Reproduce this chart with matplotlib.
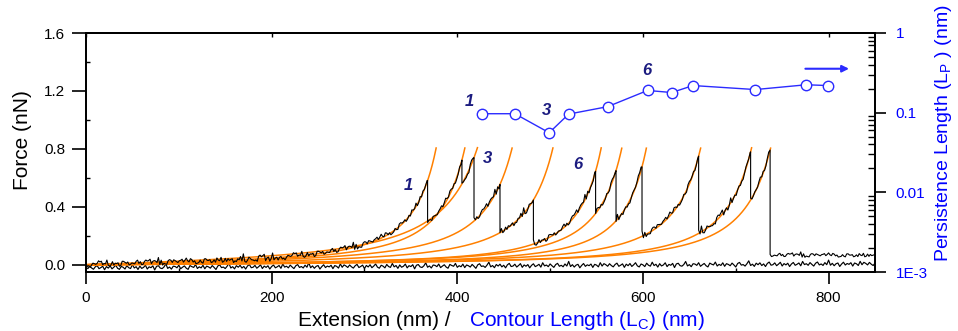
import numpy as np
import matplotlib
matplotlib.use("Agg")
import matplotlib.pyplot as plt
from matplotlib.ticker import FixedLocator, FixedFormatter, MultipleLocator, LogLocator, NullFormatter

plt.rcParams['font.family'] = ['Liberation Sans', 'DejaVu Sans']
plt.rcParams['mathtext.fontset'] = 'custom'
plt.rcParams['mathtext.rm'] = 'Liberation Sans'
plt.rcParams['mathtext.it'] = 'Liberation Sans:italic'

# ---------------- data ----------------
# WLC fit parameters for the 11 unfolding peaks
contour_nm = [427, 462, 499, 520, 562, 605, 631, 654, 721, 776, 799]
persistence_nm = [0.097, 0.097, 0.056, 0.096, 0.119, 0.19, 0.179, 0.219, 0.195, 0.224, 0.219]
# extension at which each peak ruptures
rupture_ext_nm = [368, 405, 418, 446, 482, 549, 571, 599, 660, 716, 737]
post_rupture_nN = 0.065
# approach baseline level
baseline_anchor_nm = [0, 425, 850]
baseline_anchor_nN = [-0.02, -0.008, 0.006]
# measured noise residuals (pN)
noise_pN = [5, -9, 14, -3, -15, 7, 19, -10, 0, 12, -20, 9, -5, 15, -12, 3, 22, -7, -17, 10,
            2, -14, 17, -2, -10, 26, -5, 7, -19, 12, -9, 0, 20, -15, 5, -3, 14, -24, 9, 15,
            -7, -12, 3, 31, -10, 2, -17, 10, 7, -5, 19, -14, 0, 12, -9, -20, 15, 5, -2, 24,
            -12, 3, -7, 17, -15, 9, 2, -10, 14, -3, -22, 10, 20, -5, 0, -14, 7, 34, -9, 3,
            -17, 12, -2, 15, -10, 5, -19, 9, 22, -7, -3, 14, -12, 2, 19, -15, 7, -5, 10, -20,
            3, 17, -9, 0, 12, -14, 26, -3, 5, -10, 15, -2, -17, 9, 20, -7, 2, -12, 14, -5,
            37, -10, 7, -15, 3, 10, -22, 0, 17, -9, 5, -3, 12, -19, 9, 2, -14, 24, -7, 15]
peak_labels = ['1', '3', '6']
peak_label_index = [0, 2, 5]
kT = 0.00411          # nN*nm
fit_cap_nN = 0.81

x_ticks = [0, 200, 400, 600, 800]
y_ticks = [0.0, 0.4, 0.8, 1.2, 1.6]
lp_ticks = [1e-3, 1e-2, 1e-1, 1]
lp_tick_labels = ['1E-3', '0.01', '0.1', '1']

ORANGE = '#ff8000'
BLUE = '#0000ff'
MARK_BLUE = '#2b2bff'
NAVY = '#1c1c80'


def wlc(x, L, p):
    r = np.clip(np.asarray(x, float) / L, 0, 0.9995)
    return kT / p * (0.25 / (1 - r) ** 2 - 0.25 + r)


noise = np.array(noise_pN) / 1000.0

fig = plt.figure(figsize=(9.58, 3.31), dpi=100)
W, H = 958, 331
ax = fig.add_axes([86 / W, 1 - 272 / H, (875 - 86) / W, (272 - 33) / H])

# approach trace
app_x = np.arange(0, 851, 2.0)
app_y = np.interp(app_x, baseline_anchor_nm, baseline_anchor_nN) + 0.75 * noise[np.arange(app_x.size) % noise.size]
ax.plot(app_x, app_y, color='black', lw=0.85, zorder=2)

# retract trace (sawtooth)
rx, ry = [], []
start = 0.0
for k, (L, p, xe) in enumerate(zip(contour_nm, persistence_nm, rupture_ext_nm)):
    xs = np.append(np.arange(start, xe, 1.5), xe)
    n = noise[(np.arange(xs.size) * 3 + k * 37 + 61) % noise.size]
    ys = wlc(xs, L, p) + 0.003 + n
    ys[-1] = wlc(xe, L, p)
    rx.extend(xs)
    ry.extend(ys)
    start = xe
xs = np.arange(start, 851, 1.5)
n = noise[(np.arange(xs.size) * 3 + 11) % noise.size]
rx.extend(xs)
ry.extend(post_rupture_nN + 0.7 * n)

# WLC fits
for L, p in zip(contour_nm, persistence_nm):
    xs = np.linspace(0, L * 0.999, 3000)
    f = wlc(xs, L, p)
    m = f <= fit_cap_nN
    ax.plot(xs[m], f[m], color=ORANGE, lw=1.1, zorder=3)

ax.plot(rx, ry, color='black', lw=0.8, zorder=4)

# peak labels on force curves
offsets = [(-14, -3.4), (10, -0.5), (-13, 4.8)]
for lab, i, off in zip(peak_labels, peak_label_index, offsets):
    ax.annotate(lab, xy=(rupture_ext_nm[i], wlc(rupture_ext_nm[i], contour_nm[i], persistence_nm[i])),
                xytext=off, textcoords='offset points', ha='center', va='center',
                fontsize=12, fontweight='bold', fontstyle='italic', color=NAVY)

ax.set_xlim(0, 850)
ax.set_ylim(-0.05, 1.6)
ax.xaxis.set_major_locator(FixedLocator(x_ticks))
ax.xaxis.set_minor_locator(MultipleLocator(100))
ax.yaxis.set_major_locator(FixedLocator(y_ticks))
ax.yaxis.set_major_formatter(FixedFormatter(['%.1f' % v for v in y_ticks]))
ax.yaxis.set_minor_locator(MultipleLocator(0.2))
ax.tick_params(axis='x', which='major', direction='out', length=8.5, width=1.2, labelsize=11, pad=5)
ax.tick_params(axis='x', which='minor', direction='in', length=3, width=1.0)
ax.tick_params(axis='y', which='major', direction='out', length=10, width=1.2, labelsize=11, pad=5)
ax.tick_params(axis='y', which='minor', direction='in', length=3, width=1.0)
for s in ax.spines.values():
    s.set_linewidth(1.3)

sec = ax.secondary_xaxis('top')
sec.xaxis.set_major_locator(FixedLocator(x_ticks))
sec.tick_params(direction='in', length=3, width=1.0, labeltop=False)
sec.spines['top'].set_linewidth(1.3)

# persistence length axis
ax2 = ax.twinx()
ax2.set_yscale('log')
ax2.set_ylim(1e-3, 1)
ax2.plot(contour_nm, persistence_nm, '-o', color=MARK_BLUE, lw=1.0, ms=7.5,
         mfc='white', mec=MARK_BLUE, mew=1.0, zorder=4)
ax2.yaxis.set_major_locator(FixedLocator(lp_ticks))
ax2.yaxis.set_major_formatter(FixedFormatter(lp_tick_labels))
ax2.yaxis.set_minor_locator(LogLocator(base=10, subs=np.arange(2, 10)))
ax2.yaxis.set_minor_formatter(NullFormatter())
ax2.tick_params(axis='y', which='major', direction='out', length=8, width=1.2, labelsize=11,
                labelcolor=BLUE, pad=7)
ax2.tick_params(axis='y', which='minor', direction='in', length=5, width=1.0)
for s in ax2.spines.values():
    s.set_linewidth(1.3)

lab_offsets = [(-9, 8.6), (-2, 16.3), (-0.7, 14.2)]
for lab, i, off in zip(peak_labels, peak_label_index, lab_offsets):
    ax2.annotate(lab, xy=(contour_nm[i], persistence_nm[i]), xytext=off, textcoords='offset points',
                 ha='center', va='center', fontsize=12, fontweight='bold', fontstyle='italic', color=NAVY)

ax2.annotate('', xy=(822, 0.356), xytext=(775, 0.356),
             arrowprops=dict(arrowstyle='-|>', color=MARK_BLUE, lw=1.5, mutation_scale=10,
                             shrinkA=0, shrinkB=0))

# axis titles
fig.text(23 / W, 1 - 140 / H, 'Force (nN)', rotation=90, ha='center', va='center', fontsize=15)
fig.text(450 / W, 1 - 326 / H, 'Extension (nm) /', ha='right', va='baseline', fontsize=15)
fig.text(469 / W, 1 - 326 / H, r'Contour Length (L$_\mathregular{C}$) (nm)', ha='left', va='baseline',
         fontsize=15, color=BLUE)
fig.text(944 / W, 1 - 262 / H, r'Persistence Length (L$_\mathregular{P}$ ) (nm)', rotation=90,
         ha='center', va='bottom', fontsize=14, color=BLUE)

fig.savefig('out.png', dpi=100)
